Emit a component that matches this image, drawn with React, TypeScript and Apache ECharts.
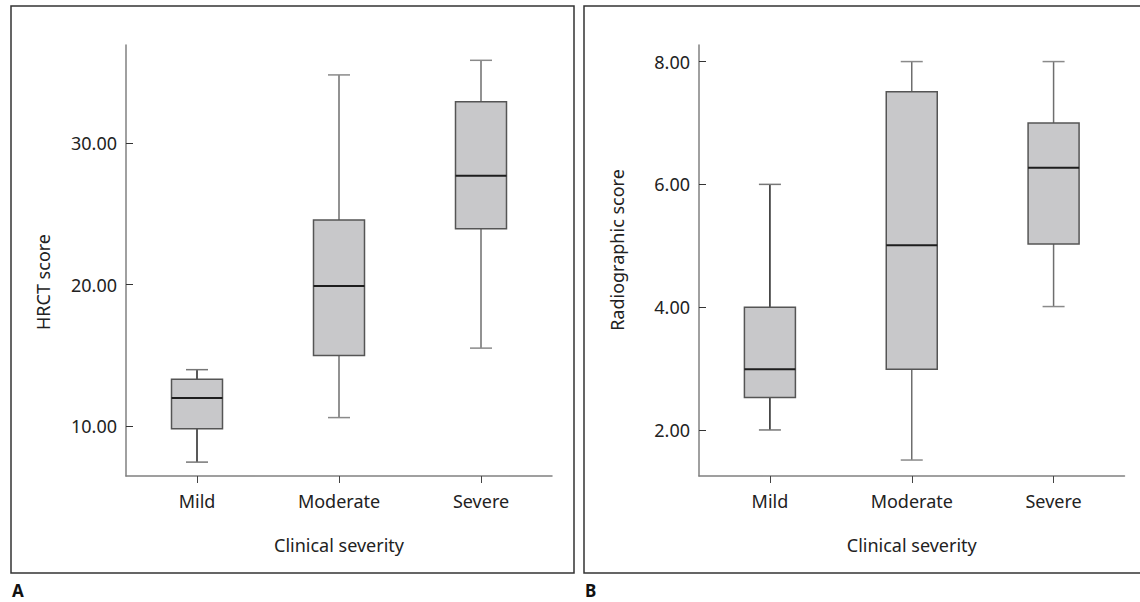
import React, { useEffect, useRef } from "react";
import * as echarts from "echarts";

const categories = ["Mild", "Moderate", "Severe"];
// [min, Q1, median, Q3, max]
const hrctValues = [
  [7.48, 9.84, 12.0, 13.33, 14.0],
  [10.62, 15.0, 19.9, 24.56, 34.79],
  [15.52, 23.94, 27.67, 32.9, 35.82],
];
const radioValues = [
  [2.0, 2.53, 2.99, 4.0, 6.0],
  [1.51, 2.99, 5.01, 7.51, 8.0],
  [4.01, 5.03, 6.27, 7.0, 8.0],
];
const hrctTicks = [10, 20, 30];
const radioTicks = [2, 4, 6, 8];

const FONT = "Noto Sans";
const TXT = "#222";

function boxRender(params: any, api: any) {
  const idx = api.value(0);
  const vals = [api.value(1), api.value(2), api.value(3), api.value(4), api.value(5)];
  const pts = vals.map((v) => api.coord([idx, v]));
  const cx = pts[0][0];
  const bw = 51;
  const cw = 22;
  const isMild = idx === 0;
  const wColor = isMild ? "#222" : "#6e6e6e";
  const capColor = isMild ? "#777" : "#8a8a8a";
  const yMin = pts[0][1], yQ1 = pts[1][1], yMed = pts[2][1], yQ3 = pts[3][1], yMax = pts[4][1];
  return {
    type: "group",
    children: [
      { type: "line", shape: { x1: cx, y1: yQ3, x2: cx, y2: yMax }, style: { stroke: wColor, lineWidth: 1.5 } },
      { type: "line", shape: { x1: cx, y1: yQ1, x2: cx, y2: yMin }, style: { stroke: wColor, lineWidth: 1.5 } },
      { type: "line", shape: { x1: cx - cw / 2, y1: yMax, x2: cx + cw / 2, y2: yMax }, style: { stroke: capColor, lineWidth: 1.5 } },
      { type: "line", shape: { x1: cx - cw / 2, y1: yMin, x2: cx + cw / 2, y2: yMin }, style: { stroke: capColor, lineWidth: 1.5 } },
      {
        type: "rect",
        shape: { x: cx - bw / 2, y: yQ3, width: bw, height: yQ1 - yQ3 },
        style: { fill: "#c8c8ca", stroke: "#555", lineWidth: 1.5 },
      },
      { type: "line", shape: { x1: cx - bw / 2, y1: yMed, x2: cx + bw / 2, y2: yMed }, style: { stroke: "#1e1e1e", lineWidth: 2 } },
    ],
  };
}

function xAxisFor(gridIndex: number) {
  return {
    type: "category",
    gridIndex,
    data: categories,
    boundaryGap: true,
    axisLine: { show: true, lineStyle: { color: "#808080", width: 1.5 } },
    axisTick: { show: true, inside: false, length: 7, alignWithLabel: true, lineStyle: { color: "#444", width: 1 } },
    axisLabel: { fontSize: 18, color: TXT, fontFamily: FONT, margin: 16 },
    splitLine: { show: false },
    name: "Clinical severity",
    nameLocation: "middle",
    nameGap: 60,
    nameTextStyle: { fontSize: 18, color: TXT, fontFamily: FONT },
  };
}

function yAxisFor(gridIndex: number, min: number, max: number, ticks: number[]) {
  return {
    type: "value",
    gridIndex,
    min,
    max,
    axisLine: { show: true, lineStyle: { color: "#808080", width: 1.5 } },
    axisTick: { show: true, inside: true, length: 7, customValues: ticks, lineStyle: { color: "#333", width: 1 } },
    axisLabel: {
      customValues: ticks,
      fontSize: 18,
      color: TXT,
      fontFamily: FONT,
      margin: 9,
      formatter: (v: number) => v.toFixed(2),
    },
    splitLine: { show: false },
  };
}

export default function App() {
  const ref = useRef<HTMLDivElement>(null);
  useEffect(() => {
    document.body.style.margin = "0";
    if (!ref.current) return;
    const chart = echarts.init(ref.current, undefined, { renderer: "svg" });
    chart.setOption({
      animation: false,
      backgroundColor: "#fff",
      grid: [
        { left: 126, top: 45, width: 426, height: 431 },
        { left: 699, top: 45, width: 425.5, height: 431 },
      ],
      xAxis: [xAxisFor(0), xAxisFor(1)],
      yAxis: [yAxisFor(0, 6.5, 36.9, hrctTicks), yAxisFor(1, 1.25, 8.27, radioTicks)],
      series: [
        {
          type: "custom",
          xAxisIndex: 0,
          yAxisIndex: 0,
          renderItem: boxRender,
          encode: { x: 0, y: [1, 2, 3, 4, 5] },
          data: hrctValues.map((v, i) => [i, ...v]),
        },
        {
          type: "custom",
          xAxisIndex: 1,
          yAxisIndex: 1,
          renderItem: boxRender,
          encode: { x: 0, y: [1, 2, 3, 4, 5] },
          data: radioValues.map((v, i) => [i, ...v]),
        },
      ],
      graphic: [
        { type: "rect", shape: { x: 11, y: 6, width: 563, height: 567 }, style: { fill: "none", stroke: "#333", lineWidth: 1.5 } },
        { type: "rect", shape: { x: 584, y: 6, width: 580, height: 567 }, style: { fill: "none", stroke: "#333", lineWidth: 1.5 } },
        {
          type: "text",
          x: 43,
          y: 282,
          rotation: Math.PI / 2,
          style: { text: "HRCT score", fontSize: 18, fontFamily: FONT, fill: TXT, align: "center", verticalAlign: "middle" },
        },
        {
          type: "text",
          x: 616.5,
          y: 250,
          rotation: Math.PI / 2,
          style: { text: "Radiographic score", fontSize: 18, fontFamily: FONT, fill: TXT, align: "center", verticalAlign: "middle" },
        },
        {
          type: "text",
          x: 12,
          y: 582,
          style: { text: "A", fontSize: 17, fontWeight: "bold", fontFamily: FONT, fill: "#111", align: "left", verticalAlign: "top" },
        },
        {
          type: "text",
          x: 585,
          y: 582,
          style: { text: "B", fontSize: 17, fontWeight: "bold", fontFamily: FONT, fill: "#111", align: "left", verticalAlign: "top" },
        },
      ],
    });
    return () => chart.dispose();
  }, []);
  return <div ref={ref} style={{ width: 1140, height: 602 }} />;
}
